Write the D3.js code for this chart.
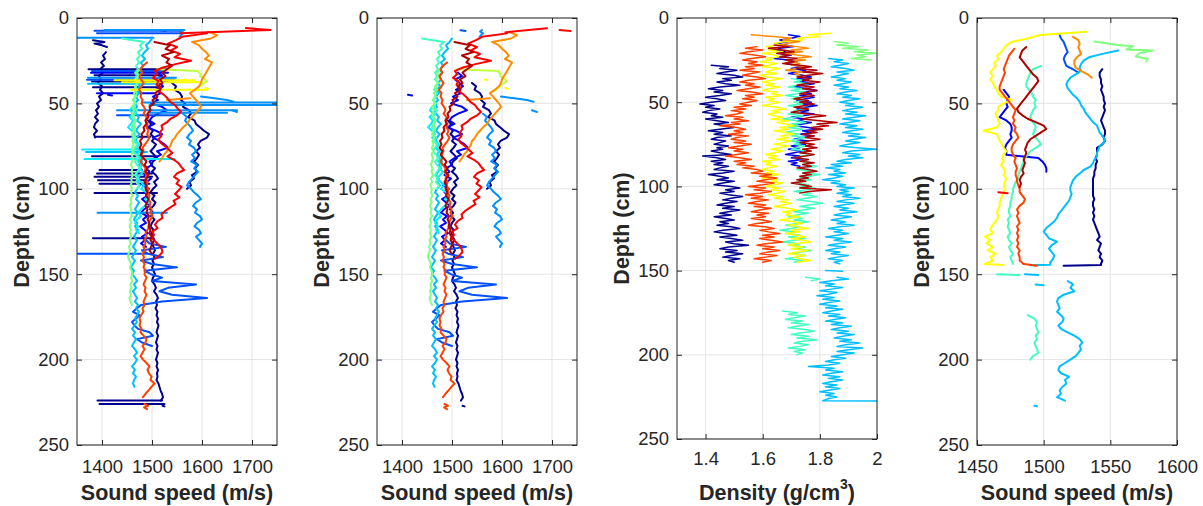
<!DOCTYPE html>
<html>
<head>
<meta charset="utf-8">
<script src="https://cdn.jsdelivr.net/npm/d3@7"></script>
<style>
  body { margin: 0; background: #fff; }
  text { font-family: "Liberation Sans", Arial, Helvetica, sans-serif; fill: #262626; }
</style>
</head>
<body>
<svg id="chart" width="1203" height="506"></svg>
<script>
// ---------- tick labels ----------
var depthTicks = [0, 50, 100, 150, 200, 250];
var ssTicks = [1400, 1500, 1600, 1700];
var densTicks = [1.4, 1.6, 1.8, 2];
var ss4Ticks = [1450, 1500, 1550, 1600];

// ---------- sound speed (m/s), 2 cm steps, cleaned profiles (panel 2) ----------
var ssNavyA = [1540,1548,1545,1556,1560,1558,1566,1562,1574,1578,1572,1585,1588,1596,1604,1614,1610,1597,1592,1596,1588,1594,1590,1584,1592,1586,1590,1580,1584,1575,1578,1570];
var ssNavyB = [1492,1498,1494,1502,1497,1505,1500,1508,1503,1497,1504,1510,1502,1498,1506,1500,1508,1512,1504,1509,
  1502,1497,1505,1500,1507,1503,1496,1502,1498,1505,1500,1497,1503,1499,1501,1505,1500,1503,1506,1502,
  1505,1501,1504,1500,1503,1506,1502,1500,1505,1508,1504,1509,1512,1508,1510,1507,1511,1509,1512,1510,
  1513,1511,1509,1512,1510,1508,1511,1509,1512,1510,1508,1511,1509,1512,1510,1511,1509,1513,1515,1517,1520,1522,1518];
var ssBlue = [1512,1520,1506,1515,1522,1508,1518,1502,1512,1498,1520,1530,1512,1500,1495,1505,1490,1508,1520,1502,
  1515,1525,1532,1510,1518,1505,1495,1500,1488,1495,1485,1498,1490,1482,1494,1485,1492,1480,1488,1495,
  1484,1478,1490,1482,1488,1476,1485,1492,1480,1486,1478,1488];
var ssRoyal = [1488,1495,1528,1480,1492,1522,1478,1500,1550,1485,1498,1520,1500,1588,1532,1515,1540,1610,1520,1478,1470,1462,1475,1468,1460,1465,1472,1495,1502,1470,1480,1500];
var ssAzure = [1562,1570,1566,1572,1578,1582,1575,1570,1578,1574,1584,1588,1580,1586,1578,1590,1584,1592,1586,1580,1574,1570,1578,1584,1592,1598,1588,1582,1590,1586,1596,1600,1590,1585,1594,1598,1588,1594,1600,1596];
var ssSky = [1500,1495,1488,1492,1485,1480,1486,1478,1482,1476,1480,1474,1478,1472,1476,1470,1474,1468,1472,1466,
  1470,1464,1468,1474,1470,1478,1472,1468,1475,1470,1466,1472,1468,1474,1470,1476,1480,1474,1478,1472,
  1468,1474,1470,1476,1470,1466,1472,1468,1474,1470,1466,1472,1468,1464,1470,1466,1472,1468,1464,1470,
  1466,1462,1468,1464,1460,1466,1462,1458,1464,1460,1466,1470,1464,1468,1462,1466,1470,1466,1472,1468,
  1474,1470,1466,1470,1465,1460,1466,1462,1468,1464,1460,1466,1470,1464,1470,1466,1460,1466,1462,1468,1464,1462,1465];
var ssCyan = [1468,1460,1456,1462,1455,1462,1458,1452,1460,1466,1460,1468,1474,1468,1476,1470,1478,1472,1480,1474,1482,1476,1470,1478,1484,1478,1488,1494,1486,1492,1485,1478,1472,1478,1470,1466,1472,1468,1474];
var ssAqua = [1440,1484,1476,1480,1472,1476,1470,1474,1468,1472,1466,1470,1466,1472,1468,1464,1470,1466,1462,1468,1464,1470,1466,1462,1468,1464,1460,1466,1462,1468,1464,1470,1466,1462,1468,1472,1466,1470,1476,1470,1466,1472,1468,1474,1470];
var ssGreen = [1476,1470,1474,1468,1472,1466,1470,1464,1468,1462,1466,1460,1464,1460,1463,1466,1462,1466,1463,1460,
  1464,1461,1463,1460,1462,1459,1462,1460,1458,1461,1459,1462,1458,1460,1457,1460,1458,1461,1457,1459,
  1456,1459,1457,1460,1456,1458,1455,1458,1456,1459,1455,1457,1454,1456,1453,1452,1455,1458,1456,1459,
  1461,1458,1460,1457,1459,1456,1458,1455,1457,1460];
var ssYGreen = [1510,1592,1594,1598,1596,1602,1606,1610,1604,1600,1596,1592,1588,1580]; // 1 cm steps
var ssOrange = [1612,1630,1618,1580,1594,1600,1608,1614,1606,1620,1616,1612,1608,1604,1600,1598,1594,1586,1576,1582,1588,1594,1598,1592,1586,1580,1574,1570,1562,1556,1550,1546,1540,1538,1534,1530,1524,1520,1515];
var ssRedOrange = [1490,1482,1477,1481,1475,1478,1483,1479,1474,1479,1477,1481,1479,1484,1487,1483,1489,1487,1491,1489,
  1493,1490,1495,1491,1486,1481,1483,1479,1481,1477,1482,1487,1485,1489,1487,1491,1489,1493,1491,1495,
  1493,1497,1495,1499,1497,1501,1497,1493,1495,1491,1487,1489,1485,1487,1483,1486,1481,1484,1481,1485,
  1483,1487,1485,1489,1486,1483,1487,1485,1489,1486,1483,1485,1481,1483,1478,1475,1477,1475,1479,1477,
  1483,1489,1487,1481,1485,1481,1477,1482,1489,1495,1491,1494,1499,1497,1505,1499,1493,1487,1482];
var ssRed = [1610,1560,1548,1532,1550,1538,1556,1545,1578,1547,1522,1506,1510,1502,1513,1509,1518,1514,1524,1531,
  1536,1546,1551,1558,1550,1537,1530,1519,1521,1516,1519,1513,1517,1526,1533,1541,1531,1544,1553,1558,
  1564,1550,1544,1554,1549,1559,1553,1546,1555,1543,1547,1536,1526,1519,1521,1511,1506,1511,1501,1504,
  1499,1507,1514,1519,1521,1515,1506];
var ssDarkRed = [1505,1536,1527,1543,1520,1534,1529,1540,1530,1521,1527,1516,1521,1511,1517,1506,1511,1501,1504,1495,
  1497,1491,1493,1487,1489,1483,1485,1479,1481,1476,1479,1475,1481,1477,1483,1489,1485,1491,1487,1493,
  1489,1485,1489,1487,1491,1488,1493,1490,1487,1491,1489,1494,1491,1495,1493,1497,1495,1499,1497,1501,1498,1495,1499];

// short pieces present in both sound speed panels: [depth, speed]
var ssPieces = [
  ["azure", [[7,1560],[8,1556],[9,1562],[10,1558],[11,1555]]],
  ["azure", [[46,1598],[47,1625],[48,1650],[49,1663]]],
  ["azure", [[54,1660],[55,1670]]],
  ["orange", [[47,1576],[48,1530]]],
  ["redorange", [[226,1485],[227,1492],[228,1484],[229,1490]]],
  ["blue", [[45,1412],[45.4,1420]]],
  ["royal", [[7.2,1517],[7.6,1527]]],
  ["yellow", [[36,1566],[36.4,1570]]],
  ["yellow", [[41,1607],[41.4,1612]]],
  ["navy", [[227,1521],[227.4,1525]]]
];
var ssTopClean = [["red", [[6,1690],[8.4,1607]]], ["red", [[7,1715],[7.6,1737]]]];

// raw-only data (panel 1)
var ssTopRaw = [["red", [[5.9,1688],[7,1737],[9,1557]]], ["navy", [[13,1382],[14,1405],[15,1385],[16,1400],[17,1410]]]];
var ssNavyLeft = [1408,1402,1406,1398,1404,1396,1402,1394,1398,1392,1400,1396,1402,1394,1398,1390,1394,1388,1392,1386,1392,1386,1384,1390,1384,1386];
// outliers: [depth, from, to, series]
var ssSpikes = [
  [7.5,1385,1562,"royal"],[9,1390,1560,"royal"],[7,1405,1565,"azure"],[11.5,1350,1503,"azure"],
  [30,1373,1530,"navy"],[31,1380,1525,"royal"],[32,1378,1532,"blue"],[33.5,1385,1520,"navy"],
  [35,1372,1548,"azure"],[36.2,1370,1545,"royal"],[37.2,1380,1530,"navy"],[38.5,1372,1512,"sky"],
  [36.5,1425,1585,"yellow"],[37.6,1440,1600,"yellow"],[42,1458,1610,"yellow"],
  [40.5,1382,1520,"navy"],[44,1390,1505,"blue"],
  [49.5,1480,1750,"azure"],[51,1495,1750,"azure"],[54,1430,1670,"azure"],[55.5,1495,1650,"azure"],[57,1430,1550,"royal"],
  [69.5,1386,1497,"navy"],
  [77,1360,1478,"cyan"],[78.5,1368,1490,"sky"],[81,1380,1510,"navy"],[82.5,1365,1545,"cyan"],
  [89,1395,1480,"navy"],[91,1390,1500,"navy"],[93,1385,1500,"navy"],[95,1392,1490,"navy"],[97,1395,1495,"navy"],
  [102.5,1385,1510,"navy"],[114,1391,1530,"azure"],[129,1382,1497,"navy"],[138,1352,1490,"royal"],
  [224,1391,1520,"navy"],[226,1395,1525,"navy"]
];

// ---------- density (g/cm3), 1 cm steps ----------
var dnNavy = [1.42,1.48,1.45,1.51,1.47,1.44,1.50,1.53,1.46,1.49, 1.44,1.47,1.52,1.45,1.41,1.46,1.43,1.49,1.45,1.40,
  1.44,1.47,1.42,1.38,1.43,1.40,1.45,1.41,1.39,1.44, 1.42,1.46,1.40,1.44,1.48,1.43,1.47,1.50,1.45,1.41,
  1.46,1.43,1.49,1.44,1.42,1.47,1.45,1.43,1.48,1.44, 1.46,1.42,1.45,1.49,1.39,1.44,1.47,1.42,1.46,1.43,
  1.48,1.45,1.43,1.50,1.46,1.41,1.45,1.48,1.44,1.50, 1.46,1.43,1.49,1.52,1.47,1.50,1.45,1.48,1.53,1.49,
  1.46,1.51,1.47,1.44,1.50,1.46,1.52,1.48,1.45,1.49, 1.43,1.47,1.50,1.45,1.48,1.44,1.49,1.52,1.46,1.43,
  1.47,1.51,1.45,1.49,1.53,1.47,1.50,1.55,1.48,1.45, 1.51,1.47,1.53,1.49,1.46,1.52,1.48,1.50];
var dnRedOrange = [1.58,1.54,1.60,1.55,1.52,1.57,1.61,1.56,1.53,1.58, 1.55,1.60,1.54,1.57,1.52,1.59,1.56,1.53,1.58,1.61,
  1.55,1.52,1.57,1.54,1.59,1.55,1.51,1.56,1.60,1.54, 1.57,1.53,1.58,1.55,1.52,1.56,1.50,1.54,1.49,1.53,
  1.51,1.47,1.53,1.50,1.55,1.49,1.52,1.45,1.51,1.54, 1.50,1.53,1.48,1.55,1.51,1.49,1.54,1.50,1.56,1.52,
  1.48,1.53,1.50,1.55,1.51,1.47,1.52,1.56,1.50,1.54, 1.51,1.57,1.53,1.58,1.60,1.56,1.63,1.59,1.65,1.61,
  1.58,1.64,1.60,1.55,1.61,1.57,1.63,1.59,1.54,1.60, 1.56,1.62,1.58,1.55,1.61,1.57,1.63,1.59,1.56,1.62,
  1.58,1.61,1.56,1.60,1.63,1.58,1.55,1.61,1.64,1.59, 1.62,1.66,1.60,1.64,1.59,1.63,1.67,1.61,1.58,1.64,
  1.60,1.66,1.62,1.59,1.65,1.61,1.57,1.63,1.60];
var dnYellow = [1.84,1.76,1.80,1.72,1.74,1.68,1.64,1.66,1.61,1.65, 1.62,1.67,1.60,1.64,1.66,1.61,1.63,1.59,1.65,1.62,
  1.60,1.66,1.63,1.61,1.65,1.59,1.62,1.67,1.63,1.60, 1.64,1.61,1.66,1.62,1.60,1.65,1.63,1.67,1.61,1.64,
  1.62,1.66,1.63,1.60,1.65,1.68,1.63,1.66,1.62,1.64, 1.67,1.63,1.69,1.65,1.68,1.71,1.66,1.69,1.64,1.68,
  1.71,1.66,1.69,1.65,1.70,1.67,1.64,1.69,1.66,1.63, 1.67,1.64,1.61,1.65,1.62,1.66,1.60,1.63,1.61,1.65,
  1.62,1.60,1.64,1.61,1.66,1.62,1.60,1.65,1.63,1.67, 1.64,1.61,1.66,1.63,1.68,1.65,1.62,1.67,1.64,1.69,
  1.66,1.70,1.67,1.64,1.69,1.72,1.67,1.70,1.68,1.73, 1.69,1.66,1.71,1.74,1.69,1.72,1.76,1.70,1.73,1.68,
  1.72,1.75,1.70,1.74,1.77,1.71,1.69,1.74,1.70,1.76, 1.72,1.69,1.75,1.71,1.73,1.77,1.72];
var dnAqua = [1.70,1.74,1.71,1.76,1.72,1.69,1.74,1.70,1.75,1.72, 1.68,1.73,1.70,1.75,1.71,1.74,1.69,1.72,1.76,1.71,
  1.73,1.69,1.74,1.71,1.67,1.72,1.75,1.70,1.73,1.69, 1.74,1.71,1.68,1.73,1.70,1.75,1.72,1.69,1.74,1.71,
  1.75,1.72,1.70,1.76,1.73,1.78,1.74,1.71,1.76,1.73, 1.77,1.74,1.79,1.75,1.72,1.77,1.74,1.80,1.76,1.73,
  1.77,1.74,1.71,1.76,1.73,1.78,1.75,1.71,1.77,1.74, 1.79,1.75,1.72,1.77,1.81,1.76,1.73,1.78,1.74,1.71,
  1.76,1.72,1.69,1.74,1.71,1.76,1.72,1.68,1.73,1.70, 1.66,1.71,1.68,1.73,1.69,1.75,1.71,1.67,1.73,1.70,
  1.75,1.71,1.77,1.73,1.70,1.75,1.72,1.68,1.74,1.71];
var dnAquaLow = [1.67,1.72,1.69,1.75,1.71,1.68,1.74,1.70,1.76,1.72,1.69,1.75,1.78,1.73,1.70,1.76,1.72,1.79,1.74,1.71,1.76,1.73,1.69,1.75,1.71,1.74,1.72];
var dnBlue = [1.69,1.73,1.70,1.66,1.69,1.65,1.68,1.71,1.66,1.64, 1.68,1.65,1.70,1.67,1.64,1.69,1.72,1.68,1.71,1.74,
  1.70,1.75,1.72,1.69,1.74,1.77,1.72,1.76,1.73,1.78, 1.74,1.71,1.76,1.79,1.74,1.77,1.73,1.78,1.75,1.72,
  1.77,1.74,1.79,1.75,1.72,1.76,1.73,1.78,1.74,1.70, 1.75,1.72,1.77,1.74,1.71,1.76,1.79,1.74,1.77,1.73,
  1.78,1.74,1.71,1.76,1.72,1.75,1.70,1.73,1.69,1.74, 1.71,1.68,1.73,1.70,1.74,1.69,1.72,1.70,1.73];
var dnDarkRed = [1.64,1.69,1.62,1.67,1.71,1.65,1.69,1.66,1.72,1.68, 1.71,1.67,1.73,1.77,1.72,1.79,1.74,1.81,1.76,1.72,
  1.77,1.74,1.80,1.75,1.72,1.78,1.74,1.79,1.76,1.73, 1.78,1.74,1.71,1.76,1.73,1.78,1.75,1.71,1.76,1.73,
  1.70,1.76,1.82,1.77,1.74,1.80,1.86,1.79,1.83,1.77, 1.81,1.76,1.79,1.74,1.78,1.75,1.80,1.76,1.73,1.78,
  1.75,1.79,1.74,1.77,1.73,1.78,1.75,1.71,1.76,1.73, 1.78,1.74,1.77,1.72,1.76,1.79,1.74,1.77,1.73,1.76,
  1.72,1.75,1.70,1.74,1.77,1.73,1.84,1.76,1.73];
var dnOrange = [1.56,1.64,1.70,1.67,1.73,1.69,1.66,1.72,1.76,1.70,1.74,1.68,1.72,1.77,1.71,1.75,1.69,1.73,1.70,1.76,1.72,1.68,1.74,1.71,1.73];
var dnGreen = [[14,1.85],[15,1.90],[16,1.86],[17,1.94],[18,1.88],[19,1.97],[20,1.92],[21,2.00],[22,1.93],[23,1.96],[24,1.91],[25,1.98]];
var dnSky = [1.83,1.88,1.85,1.90,1.87,1.84,1.89,1.92,1.86,1.90, 1.87,1.84,1.89,1.86,1.91,1.88,1.85,1.90,1.87,1.93,
  1.89,1.86,1.91,1.88,1.94,1.90,1.87,1.92,1.89,1.95, 1.91,1.88,1.93,1.89,1.96,1.92,1.88,1.94,1.90,1.87,
  1.93,1.89,1.95,1.91,1.88,1.94,1.90,1.96,1.92,1.89, 1.94,1.90,1.87,1.93,2.00,1.91,1.88,1.94,1.90,1.95,
  1.89,1.86,1.91,1.84,1.88,1.82,1.87,1.85,1.89,1.83, 1.88,1.85,1.81,1.87,1.84,1.89,1.86,1.92,1.87,1.90,
  1.86,1.91,1.88,1.94,1.89,1.86,1.92,1.88,1.85,1.90, 1.87,1.93,1.88,1.85,1.91,1.87,1.84,1.89,1.86,1.92,
  1.87,1.83,1.88,1.85,1.90,1.86,1.82,1.88,1.85,1.91, 1.86,1.83,1.89,1.85,1.82,1.87,1.84,1.90,1.86,1.83,
  1.88,1.85,1.87];
var dnSkyLow = [1.86,1.90,1.84,1.80,1.85,1.82,1.88,1.84,1.80,1.86, 1.83,1.79,1.85,1.81,1.87,1.83,1.80,1.86,1.82,1.88,
  1.84,1.81,1.87,1.83,1.89,1.85,1.82,1.88,1.84,1.91, 1.87,1.84,1.90,1.86,1.92,1.88,1.85,1.91,1.87,1.94,
  1.89,1.86,1.95,1.90,1.86,1.92,1.88,1.84,1.89,1.85, 1.82,1.87,1.83,1.76,1.85,1.82,1.88,1.84,1.81,1.87,
  1.83,1.88,1.84,1.81,1.86,1.82,1.87,1.83,1.80,1.85, 1.82,1.86,1.83];
var dnPieces = [
  ["aqua", [[154,1.75],[155,1.80],[156,1.77]]],
  ["sky", [[150,1.82],[150.4,1.88]]],
  ["sky", [[226,1.83],[227.3,1.81],[227.5,2.05]]]
];

// ---------- sound speed (m/s), panel 4, 2 cm steps ----------
var spYellow = [1532,1497,1488,1476,1472,1470,1468,1465,1466,1463,1464,1462,1460,1462,1460,1462,1463,1465,1466,1468,
  1476,1470,1466,1466,1464,1465,1466,1467,1465,1455,1465,1466,1467,1469,1470,1472,1470,1469,1470,1468,
  1470,1471,1470,1472,1471,1470,1471,1470,1469,1468,1467,1467,1466,1465,1466,1465,1463,1461,1460,1462,
  1456,1460,1457,1462,1458,1464,1460,1462,1456];
var spRedOrange = [1478,1476,1474,1473,1472,1471,1470,1471,1470,1469,1468,1467,1467,1469,1471,1473,1475,1477,1479,1478,
  1477,1478,1477,1479,1478,1480,1481,1479,1477,1476,1476,1477,1479,1478,1479,1480,1479,1479,1480,1480,
  1481,1482,1482,1484,1486,1485,1482,1480,1481,1480,1481,1482,1480,1481,1480,1481,1480,1481,1480,1482,
  1481,1482,1482,1485];
var spDarkRed = [1487,1484,1483,1482,1484,1486,1488,1490,1492,1495,1496,1494,1492,1490,1488,1486,1484,1482,1480,1481,
  1484,1488,1494,1500,1502,1498,1494,1490,1488,1487,1486,1487,1486,1485,1486,1485,1484,1485,1483,1482,1483,1482];
var spAqua = [1498,1492,1490,1489,1488,1487,1487,1489,1491,1492,1494,1493,1494,1492,1491,1490,1491,1493,1494,1493,
  1492,1494,1496,1498,1494,1490,1488,1486,1485,1484,1483,1482,1481,1481,1479,1478,1477,1477,1476,1476,
  1475,1475,1474,1474,1475,1473,1474,1473,1474,1475,1473,1474,1476,1474,1475,1477,1475,1476,1477];
var spAquaLow = [1488,1493,1495,1494,1495,1496,1494,1495,1493,1494,1495,1496,1492,1490];
var spBlue = [1470,1472,1474,1473,1472,1473,1471,1469,1467,1472,1475,1476,1476,1475,1476,1474,1472,1471,1472,1472,1496,1499,1501,1502,1502];
var spAzure = [1512,1513,1515,1516,1517,1518,1516,1515,1516,1517,1522,1526];
var spOrange = [1522,1526,1527,1526,1527,1528,1525,1523,1523,1524,1528,1533,1536];
var spGreen = [[13.7,1538],[15.6,1554],[16.6,1567],[18.4,1562],[19,1582],[20.5,1572],[22.5,1569],[24,1578],[25.4,1577]];
var spSky = [1556,1544,1534,1530,1528,1527,1528,1524,1520,1518,1517,1518,1520,1522,1525,1527,1528,1530,1531,1533,
  1535,1537,1540,1541,1542,1544,1546,1545,1542,1541,1540,1540,1538,1537,1535,1530,1527,1524,1522,1521,
  1520,1520,1521,1520,1519,1517,1515,1513,1511,1510,1508,1505,1502,1500,1502,1504,1510,1506,1504,1506,
  1508,1507,1505];
var spSkyLow = [1518,1522,1520,1523,1515,1511,1510,1511,1512,1510,1513,1515,1514,1511,1513,1518,1523,1527,1529,1527,
  1528,1526,1524,1520,1516,1512,1511,1513,1519,1516,1517,1514,1512,1513,1510,1516];
var spNavy = [1544,1542,1542,1543,1543,1544,1543,1544,1545,1545,1546,1545,1546,1545,1544,1543,1544,1545,1546,1546,
  1545,1546,1544,1540,1540,1540,1539,1540,1539,1539,1538,1538,1537,1537,1537,1537,1537,1537,1538,1537,
  1537,1538,1537,1538,1537,1538,1539,1540,1541,1542,1540,1543,1542,1541,1543,1542,1544,1543];
var spPieces = [
  ["yellow", [[144,1456],[144.6,1470]]],
  ["redorange", [[144,1485],[145,1495]]],
  ["red", [[102,1466],[102.6,1473]]],
  ["aqua", [[150,1465],[150.5,1482]]],
  ["sky", [[143,1505],[144.5,1505],[144.8,1490]]],
  ["sky", [[150,1486],[150.5,1496]]],
  ["sky", [[156,1494],[156.5,1500]]],
  ["sky", [[227,1493],[227.3,1495]]],
  ["navy", [[144,1543],[144.6,1543],[145,1515]]]
];

// ---------- colours (jet) ----------
var jet = {
  navy: "#00008f", blue: "#0000ff", royal: "#0050ff", azure: "#0090ff",
  sky: "#00bfff", cyan: "#00efff", aqua: "#40ffbf", lgreen: "#80ff80",
  ygreen: "#bfff40", yellow: "#ffff00", orange: "#ff8c00",
  redorange: "#ff4000", red: "#ff0000", darkred: "#b00000"
};
var colorOrder = Object.keys(jet);

function prof(d0, step, vals) {
  return vals.map(function (v, i) { return [d0 + i * step, v]; });
}
function piece(p) { return { c: p[0], pts: p[1] }; }
function byColor(lines) {
  return lines.slice().sort(function (a, b) { return colorOrder.indexOf(a.c) - colorOrder.indexOf(b.c); });
}

var cleanLines = [
  { c: "navy", pts: prof(38, 2, ssNavyA) },
  { c: "navy", pts: prof(60, 2, ssNavyB) },
  { c: "blue", pts: prof(32, 2, ssBlue) },
  { c: "royal", pts: prof(130, 2, ssRoyal) },
  { c: "azure", pts: prof(56, 2, ssAzure) },
  { c: "sky", pts: prof(12, 2, ssSky) },
  { c: "cyan", pts: prof(50, 2, ssCyan) },
  { c: "aqua", pts: prof(12, 2, ssAqua) },
  { c: "lgreen", pts: prof(30, 2, ssGreen) },
  { c: "ygreen", pts: prof(30, 1, ssYGreen) },
  { c: "orange", pts: prof(8, 2, ssOrange) },
  { c: "redorange", pts: prof(26, 2, ssRedOrange) },
  { c: "red", pts: prof(9, 2, ssRed) },
  { c: "darkred", pts: prof(14, 2, ssDarkRed) }
].concat(ssPieces.map(piece));

var panel2Lines = byColor(cleanLines.concat(ssTopClean.map(piece)));
var panel1Lines = byColor(cleanLines
  .concat(ssTopRaw.map(piece))
  .concat([{ c: "navy", pts: prof(20, 2, ssNavyLeft) }])
  .concat(ssSpikes.map(function (s) { return { c: s[3], pts: [[s[0], s[1]], [s[0], s[2]]] }; })));

var panel3Lines = byColor([
  { c: "navy", pts: prof(28, 1, dnNavy) },
  { c: "redorange", pts: prof(17, 1, dnRedOrange) },
  { c: "yellow", pts: prof(9, 1, dnYellow) },
  { c: "aqua", pts: prof(36, 1, dnAqua) },
  { c: "aqua", pts: prof(174, 1, dnAquaLow) },
  { c: "blue", pts: prof(10, 1, dnBlue) },
  { c: "darkred", pts: prof(16, 1, dnDarkRed) },
  { c: "orange", pts: prof(10, 1, dnOrange) },
  { c: "lgreen", pts: dnGreen },
  { c: "sky", pts: prof(24, 1, dnSky) },
  { c: "sky", pts: prof(154, 1, dnSkyLow) }
].concat(dnPieces.map(piece)));

var panel4Lines = byColor([
  { c: "yellow", pts: prof(8, 2, spYellow) },
  { c: "redorange", pts: prof(18, 2, spRedOrange) },
  { c: "darkred", pts: prof(17, 2, spDarkRed) },
  { c: "aqua", pts: prof(28, 2, spAqua) },
  { c: "aqua", pts: prof(174, 2, spAquaLow) },
  { c: "blue", pts: prof(42, 2, spBlue) },
  { c: "royal", pts: prof(10, 2, spAzure) },
  { c: "orange", pts: prof(11, 2, spOrange) },
  { c: "lgreen", pts: spGreen },
  { c: "sky", pts: prof(19, 2, spSky) },
  { c: "sky", pts: prof(154, 2, spSkyLow) },
  { c: "navy", pts: prof(30, 2, spNavy) }
].concat(spPieces.map(piece)));

// ---------- drawing ----------
var svg = d3.select("#chart");
var plotTop = 18, W = 200;
var fontFamily = "Liberation Sans, Arial, Helvetica, sans-serif";

var panels = [
  { left: 77, bottom: 445, domain: [1350, 1750], ticks: ssTicks, lines: panel1Lines, lw: 2, label: "Sound speed (m/s)" },
  { left: 377, bottom: 445, domain: [1350, 1750], ticks: ssTicks, lines: panel2Lines, lw: 2, label: "Sound speed (m/s)" },
  { left: 677, bottom: 439, domain: [1.3, 2.0], ticks: densTicks, lines: panel3Lines, lw: 1.5, label: "density" },
  { left: 977, bottom: 445, domain: [1450, 1600], ticks: ss4Ticks, lines: panel4Lines, lw: 2, label: "Sound speed (m/s)" }
];

function styleAxis(sel) {
  sel.select(".domain").remove();
  sel.attr("font-size", 18.5).attr("font-family", fontFamily).style("color", "#262626");
}

panels.forEach(function (p, i) {
  var h = p.bottom - plotTop;
  var g = svg.append("g").attr("transform", "translate(" + p.left + "," + plotTop + ")");
  var x = d3.scaleLinear().domain(p.domain).range([0, W]);
  var y = d3.scaleLinear().domain([0, 250]).range([0, h]);

  // grid
  g.append("g").selectAll("line").data(p.ticks).enter().append("line")
    .attr("x1", function (d) { return x(d); }).attr("x2", function (d) { return x(d); })
    .attr("y1", 0).attr("y2", h).attr("stroke", "#e4e4e4");
  g.append("g").selectAll("line").data(depthTicks).enter().append("line")
    .attr("x1", 0).attr("x2", W)
    .attr("y1", function (d) { return y(d); }).attr("y2", function (d) { return y(d); })
    .attr("stroke", "#e4e4e4");

  // profiles
  g.append("clipPath").attr("id", "clip" + i).append("rect").attr("width", W).attr("height", h);
  var line = d3.line().x(function (d) { return x(d[1]); }).y(function (d) { return y(d[0]); });
  g.append("g").attr("clip-path", "url(#clip" + i + ")")
    .selectAll("path").data(p.lines).enter().append("path")
    .attr("d", function (d) { return line(d.pts); })
    .attr("fill", "none")
    .attr("stroke", function (d) { return jet[d.c]; })
    .attr("stroke-width", p.lw)
    .attr("stroke-linejoin", "round")
    .attr("stroke-linecap", "round");

  // axes (ticks inside, matlab style)
  g.append("g").attr("transform", "translate(0," + h + ")")
    .call(d3.axisBottom(x).tickValues(p.ticks).tickSize(-5).tickPadding(p.bottom === 439 ? 13 : 15)
      .tickFormat(function (d) { return String(d); }))
    .call(styleAxis);
  g.append("g")
    .call(d3.axisTop(x).tickValues(p.ticks).tickSize(-5).tickFormat(""))
    .call(styleAxis);
  g.append("g")
    .call(d3.axisLeft(y).tickValues(depthTicks).tickSize(-5).tickPadding(8)
      .tickFormat(function (d) { return String(d); }))
    .call(styleAxis);
  g.append("g").attr("transform", "translate(" + W + ",0)")
    .call(d3.axisRight(y).tickValues(depthTicks).tickSize(-5).tickFormat(""))
    .call(styleAxis);

  g.append("rect").attr("width", W).attr("height", h)
    .attr("fill", "none").attr("stroke", "#262626").attr("stroke-width", 1);

  // labels
  var xl = g.append("text").attr("x", W / 2).attr("y", 500 - plotTop)
    .attr("text-anchor", "middle").attr("font-weight", "bold").attr("font-size", 21.5);
  if (p.label === "density") {
    xl.append("tspan").text("Density (g/cm");
    xl.append("tspan").attr("dy", -11).attr("font-size", 14).text("3");
    xl.append("tspan").attr("dy", 11).text(")");
  } else {
    xl.text(p.label);
  }
  g.append("text")
    .attr("transform", "translate(-48," + (h / 2) + ") rotate(-90)")
    .attr("text-anchor", "middle").attr("font-weight", "bold").attr("font-size", 21.5)
    .text("Depth (cm)");
});
</script>
</body>
</html>
